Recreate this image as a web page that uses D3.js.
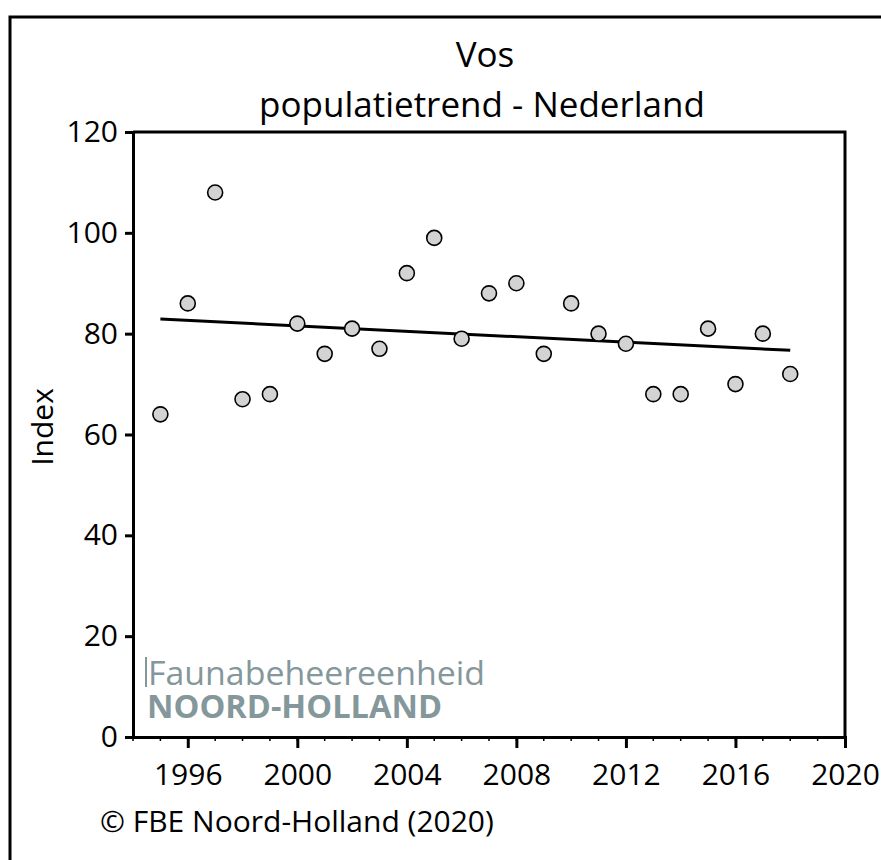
<!DOCTYPE html>
<html lang="nl">
<head>
<meta charset="UTF-8"/>
<title>Vos – populatietrend</title>
<script src="https://cdn.jsdelivr.net/npm/d3@7"></script>
<style>
    body { margin: 0; background: #fff; }
    text { font-family: "Open Sans", sans-serif; fill: #000; }
    .axis path, .axis line { stroke: #000; stroke-width: 3px; }
    .axis text { font-size: 30px; font-family: "Open Sans", sans-serif; }
    .minor line { stroke: #000; stroke-width: 1.5px; }
    .dot { fill: #d3d3d3; stroke: #000; stroke-width: 1.6px; }
    .trend { fill: none; stroke: #000; stroke-width: 3px; }
    .logo { fill: #84979b; }
</style>
</head>
<body>
<svg width="881" height="860"></svg>
<script>
    // jaren en index
    const years = [1995, 1996, 1997, 1998, 1999, 2000, 2001, 2002, 2003, 2004, 2005, 2006,
                   2007, 2008, 2009, 2010, 2011, 2012, 2013, 2014, 2015, 2016, 2017, 2018];
    const index = [64, 86, 108, 67, 68, 82, 76, 81, 77, 92, 99, 79,
                   88, 90, 76, 86, 80, 78, 68, 68, 81, 70, 80, 72];

    // lineaire trend (begin- en eindpunt)
    const trendYears = [1995, 2018];
    const trendValues = [82.9, 76.7];

    const xTicks = [1996, 2000, 2004, 2008, 2012, 2016, 2020];
    const yTicks = [0, 20, 40, 60, 80, 100, 120];

    const svg = d3.select("svg");

    // kader rond de figuur
    svg.append("rect")
        .attr("x", 10).attr("y", 17)
        .attr("width", 900).attr("height", 900)
        .attr("fill", "none").attr("stroke", "#000").attr("stroke-width", 3);

    const pLeft = 133, pRight = 845, pTop = 132, pBottom = 737;

    const x = d3.scaleLinear().domain([1994, 2020]).range([pLeft, pRight]);
    const y = d3.scaleLinear().domain([0, 120]).range([pBottom, pTop]);

    // bovenrand en rechterrand van het plotvlak
    svg.append("path")
        .attr("d", "M" + pLeft + "," + pTop + "H" + pRight + "V" + pBottom)
        .attr("fill", "none").attr("stroke", "#000").attr("stroke-width", 3);

    // kleine streepjes per jaar
    svg.append("g").attr("class", "minor")
        .selectAll("line")
        .data(d3.range(1994, 2021))
        .join("line")
        .attr("x1", d => x(d)).attr("x2", d => x(d))
        .attr("y1", pBottom).attr("y2", pBottom + 4);

    svg.append("g")
        .attr("class", "axis")
        .attr("transform", "translate(0," + pBottom + ")")
        .call(d3.axisBottom(x).tickValues(xTicks).tickFormat(d3.format("d"))
            .tickSize(11).tickSizeOuter(0).tickPadding(16));

    svg.append("g")
        .attr("class", "axis")
        .attr("transform", "translate(" + pLeft + ",0)")
        .call(d3.axisLeft(y).tickValues(yTicks).tickSize(8).tickSizeOuter(0).tickPadding(7));

    svg.selectAll(".axis .domain").attr("stroke-linecap", "square");

    // titel
    svg.append("text")
        .attr("x", 485).attr("y", 67)
        .attr("text-anchor", "middle").attr("font-size", 35)
        .text("Vos");
    svg.append("text")
        .attr("x", 482).attr("y", 117)
        .attr("text-anchor", "middle").attr("font-size", 35)
        .text("populatietrend - Nederland");

    svg.append("text")
        .attr("transform", "translate(53,427) rotate(-90)")
        .attr("text-anchor", "middle").attr("font-size", 30)
        .text("Index");

    // logo
    svg.append("rect").attr("class", "logo")
        .attr("x", 145).attr("y", 657).attr("width", 2).attr("height", 30);
    const logo = svg.append("text").attr("class", "logo")
        .attr("font-family", "Roboto, sans-serif").attr("font-size", 33);
    logo.append("tspan")
        .attr("x", 148).attr("y", 685)
        .attr("textLength", 337).attr("lengthAdjust", "spacingAndGlyphs")
        .text("Faunabeheereenheid");
    logo.append("tspan")
        .attr("x", 147).attr("y", 718)
        .attr("font-weight", "bold")
        .attr("textLength", 295).attr("lengthAdjust", "spacingAndGlyphs")
        .text("NOORD-HOLLAND");

    // trendlijn
    const line = d3.line().x(d => x(d[0])).y(d => y(d[1]));
    svg.append("path")
        .attr("class", "trend")
        .attr("d", line(trendYears.map((t, i) => [t, trendValues[i]])));

    // punten
    svg.append("g")
        .selectAll("circle")
        .data(years)
        .join("circle")
        .attr("class", "dot")
        .attr("cx", d => x(d))
        .attr("cy", (d, i) => y(index[i]))
        .attr("r", 7.5);

    svg.append("text")
        .attr("x", 100).attr("y", 832)
        .attr("font-size", 30)
        .text("© FBE Noord-Holland (2020)");
</script>
</body>
</html>
